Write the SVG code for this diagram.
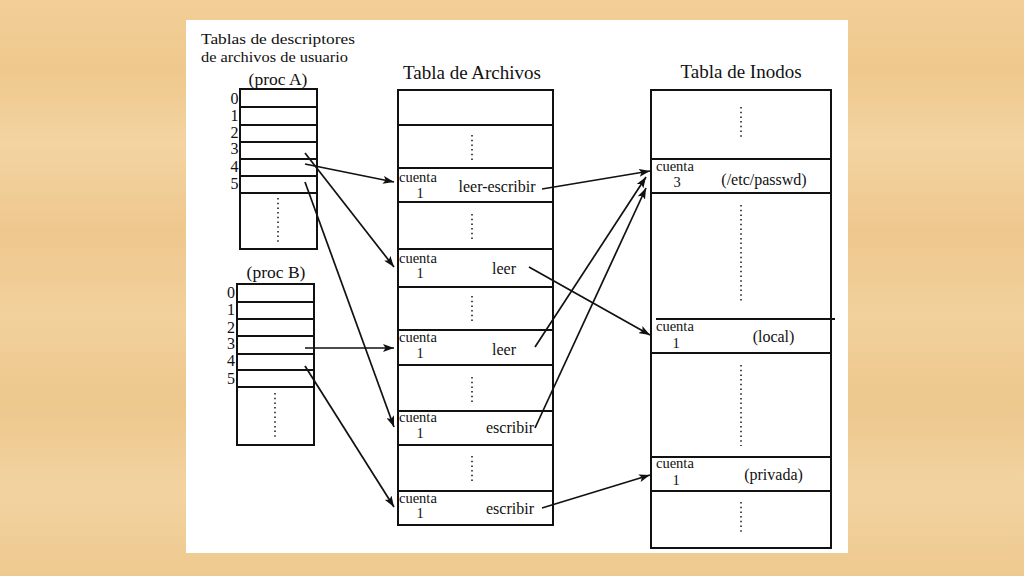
<svg xmlns="http://www.w3.org/2000/svg" width="1024" height="576" viewBox="0 0 1024 576">
<defs>
<linearGradient id="wood" x1="0" y1="0" x2="0" y2="1">
<stop offset="0" stop-color="#F2CF98"/>
<stop offset="0.12" stop-color="#EFC88C"/>
<stop offset="0.25" stop-color="#F3D4A2"/>
<stop offset="0.4" stop-color="#EEC78D"/>
<stop offset="0.55" stop-color="#F2D19C"/>
<stop offset="0.7" stop-color="#EDC78C"/>
<stop offset="0.85" stop-color="#F2D3A0"/>
<stop offset="1" stop-color="#EEC98F"/>
</linearGradient>
<marker id="ah" viewBox="0 0 11 8" refX="11" refY="4" markerWidth="11" markerHeight="8" markerUnits="userSpaceOnUse" orient="auto">
<path d="M0,0 L11,4 L0,8 L2.5,4 Z" fill="#111"/>
</marker>
<style>
.box{fill:#fff;stroke:#111;stroke-width:2}
.ln{stroke:#111;stroke-width:2;fill:none}
.dots{stroke:#222;stroke-width:1.6;stroke-dasharray:1.5 3.2;fill:none}
.arr{stroke:#111;stroke-width:1.7;fill:none;marker-end:url(#ah)}
text{font-family:"Liberation Serif","Times New Roman",serif;fill:#111}
.t1{font-size:15.5px}
.t2{font-size:19px;text-anchor:middle}
.p{font-size:17.5px;text-anchor:middle}
.d{font-size:16px;text-anchor:middle}
.c{font-size:14.5px}
.n{font-size:14.5px;text-anchor:middle}
.m{font-size:16px;text-anchor:middle}
</style>
</defs>
<rect x="0" y="0" width="1024" height="576" fill="url(#wood)"/>
<rect x="186" y="20" width="662" height="533" fill="#fff"/>

<g id="titulo-descriptores">
<text class="t1" x="201" y="44" textLength="154" lengthAdjust="spacingAndGlyphs">Tablas de descriptores</text>
<text class="t1" x="201" y="62" textLength="147" lengthAdjust="spacingAndGlyphs">de archivos de usuario</text>
</g>

<g id="procA">
<text class="p" x="278" y="85">(proc A)</text>
<rect class="box" x="240" y="89" width="77" height="160"/>
<path class="ln" d="M240,107H317M240,125H317M240,142H317M240,159H317M240,176H317M240,193H317"/>
<line class="dots" x1="278" y1="198" x2="278" y2="244"/>
<text class="d" x="234.5" y="104">0</text>
<text class="d" x="234.5" y="121">1</text>
<text class="d" x="234.5" y="138">2</text>
<text class="d" x="234.5" y="154">3</text>
<text class="d" x="234.5" y="172">4</text>
<text class="d" x="234.5" y="189">5</text>
</g>

<g id="procB">
<text class="p" x="276" y="278">(proc B)</text>
<rect class="box" x="237" y="284" width="77" height="161"/>
<path class="ln" d="M237,302H314M237,319H314M237,336H314M237,354H314M237,370H314M237,387H314"/>
<line class="dots" x1="275" y1="393" x2="275" y2="438"/>
<text class="d" x="231" y="298">0</text>
<text class="d" x="231" y="315">1</text>
<text class="d" x="231" y="333">2</text>
<text class="d" x="231" y="349">3</text>
<text class="d" x="231" y="366">4</text>
<text class="d" x="231" y="384">5</text>
</g>

<g id="tabla-archivos">
<text class="t2" x="472" y="79">Tabla de Archivos</text>
<rect class="box" x="398" y="90" width="155" height="435"/>
<path class="ln" d="M398,125H553M398,168H553M398,202H553M398,249H553M398,287H553M398,330H553M398,365H553M398,411H553M398,445H553M398,491H553"/>
<line class="dots" x1="472" y1="135" x2="472" y2="161"/>
<line class="dots" x1="472" y1="214" x2="472" y2="241"/>
<line class="dots" x1="472" y1="296" x2="472" y2="322"/>
<line class="dots" x1="472" y1="377" x2="472" y2="403"/>
<line class="dots" x1="472" y1="456" x2="472" y2="482"/>
<text class="c" x="399" y="182">cuenta</text><text class="n" x="420" y="198">1</text>
<text class="m" x="497" y="192">leer-escribir</text>
<text class="c" x="399" y="263">cuenta</text><text class="n" x="420" y="278">1</text>
<text class="m" x="504" y="274">leer</text>
<text class="c" x="399" y="342">cuenta</text><text class="n" x="420" y="358">1</text>
<text class="m" x="504" y="355">leer</text>
<text class="c" x="399" y="422">cuenta</text><text class="n" x="420" y="438">1</text>
<text class="m" x="510" y="433">escribir</text>
<text class="c" x="399" y="503">cuenta</text><text class="n" x="420" y="518">1</text>
<text class="m" x="510" y="514">escribir</text>
</g>

<g id="tabla-inodos">
<text class="t2" x="741" y="78">Tabla de Inodos</text>
<rect class="box" x="651" y="90" width="180" height="458"/>
<path class="ln" d="M651,159H831M651,193H831M656,319H835M651,353H831M651,457H831M651,491H831"/>
<line class="dots" x1="741" y1="107" x2="741" y2="139"/>
<line class="dots" x1="741" y1="205" x2="741" y2="303"/>
<line class="dots" x1="741" y1="365" x2="741" y2="446"/>
<line class="dots" x1="741" y1="502" x2="741" y2="534"/>
<text class="c" x="656" y="171">cuenta</text><text class="n" x="677" y="187">3</text>
<text class="m" x="764" y="185">(/etc/passwd)</text>
<text class="c" x="656" y="331">cuenta</text><text class="n" x="676" y="348">1</text>
<text class="m" x="773.5" y="342">(local)</text>
<text class="c" x="656" y="468">cuenta</text><text class="n" x="676" y="485">1</text>
<text class="m" x="773.5" y="480">(privada)</text>
</g>

<g id="conectores">
<line class="arr" x1="305" y1="164" x2="394" y2="182"/>
<line class="arr" x1="305" y1="153" x2="394" y2="267"/>
<line class="arr" x1="305" y1="182" x2="394" y2="427"/>
<line class="arr" x1="305" y1="348" x2="394" y2="348"/>
<line class="arr" x1="305" y1="366" x2="394" y2="507"/>
<line class="arr" x1="542" y1="189" x2="650" y2="171"/>
<line class="arr" x1="529" y1="267" x2="650" y2="335"/>
<line class="arr" x1="535" y1="347" x2="646" y2="177"/>
<line class="arr" x1="535" y1="428" x2="646" y2="188"/>
<line class="arr" x1="542" y1="508" x2="650" y2="475"/>
</g>
</svg>
